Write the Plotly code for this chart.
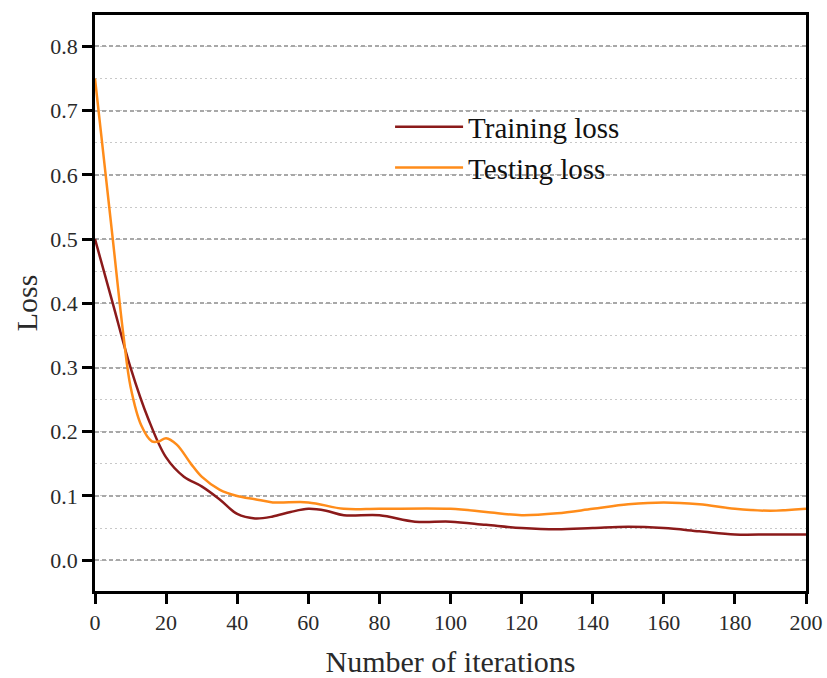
import plotly.graph_objects as go

iters_train = [0, 5, 10, 15, 20, 25, 30, 35, 40, 45, 50, 55, 60, 65, 70, 80, 90, 100, 110, 120, 130, 140, 150, 160, 170, 180, 190, 200]
train_loss = [0.50, 0.40, 0.30, 0.22, 0.16, 0.13, 0.115, 0.095, 0.072, 0.065, 0.068, 0.075, 0.080, 0.077, 0.070, 0.070, 0.060, 0.060, 0.055, 0.050, 0.048, 0.050, 0.052, 0.050, 0.045, 0.040, 0.040, 0.040]

iters_test = [0, 3, 5, 8, 10, 13, 16, 18, 20, 23, 27, 30, 35, 40, 45, 50, 60, 70, 80, 100, 110, 120, 130, 140, 150, 160, 170, 180, 190, 200]
test_loss = [0.75, 0.60, 0.50, 0.35, 0.27, 0.21, 0.185, 0.185, 0.19, 0.18, 0.15, 0.13, 0.11, 0.10, 0.095, 0.09, 0.09, 0.08, 0.08, 0.08, 0.075, 0.07, 0.073, 0.08, 0.087, 0.09, 0.087, 0.08, 0.077, 0.08]

x_ticks = list(range(0, 201, 20))
y_ticks = [0.0, 0.1, 0.2, 0.3, 0.4, 0.5, 0.6, 0.7, 0.8]

FONT = "Liberation Serif"

fig = go.Figure()
fig.add_trace(go.Scatter(x=iters_train, y=train_loss, mode="lines", name="Training loss",
                         line=dict(color="#8B1A1A", width=2.5, shape="spline", smoothing=1.0)))
fig.add_trace(go.Scatter(x=iters_test, y=test_loss, mode="lines", name="Testing loss",
                         line=dict(color="#FF8C1A", width=2.5, shape="spline", smoothing=1.0)))

fig.update_layout(
    width=827, height=678,
    margin=dict(l=95, r=21, t=15, b=87, autoexpand=False),
    plot_bgcolor="white", paper_bgcolor="white",
    font=dict(family=FONT, color="#222222"),
    showlegend=True,
    legend=dict(x=0.415, y=0.85, xanchor="left", yanchor="top",
                bgcolor="rgba(0,0,0,0)", font=dict(family=FONT, size=29, color="#111111"),
                itemwidth=68, tracegroupgap=0),
)
fig.update_xaxes(
    range=[0, 200], tickvals=x_ticks, ticktext=[str(v) for v in x_ticks],
    showline=True, linecolor="black", linewidth=2.5, mirror=True,
    ticks="outside", ticklen=10, tickwidth=2.5, tickcolor="black",
    showgrid=False, zeroline=False, automargin=False,
    tickfont=dict(family=FONT, size=22, color="#2a2a2a"),
    title=dict(text="Number of iterations", font=dict(family=FONT, size=30, color="#2a2a2a"), standoff=20),
)
fig.update_yaxes(
    range=[-0.048, 0.849], tickvals=y_ticks, ticktext=[f"{v:.1f}" for v in y_ticks],
    showline=True, linecolor="black", linewidth=2.5, mirror=True,
    ticks="outside", ticklen=10, tickwidth=2.5, tickcolor="black",
    showgrid=True, gridcolor="#a8a8a8", griddash="4px,3px", gridwidth=1.5,
    zeroline=False, automargin=False,
    minor=dict(dtick=0.05, tick0=0.05, showgrid=True, gridcolor="#c8c8c8", griddash="2px,3px", gridwidth=1.2, ticks=""),
    tickfont=dict(family=FONT, size=22, color="#2a2a2a"),
    title=dict(text="Loss", font=dict(family=FONT, size=30, color="#2a2a2a"), standoff=4),
)

fig.write_html("out.html")
